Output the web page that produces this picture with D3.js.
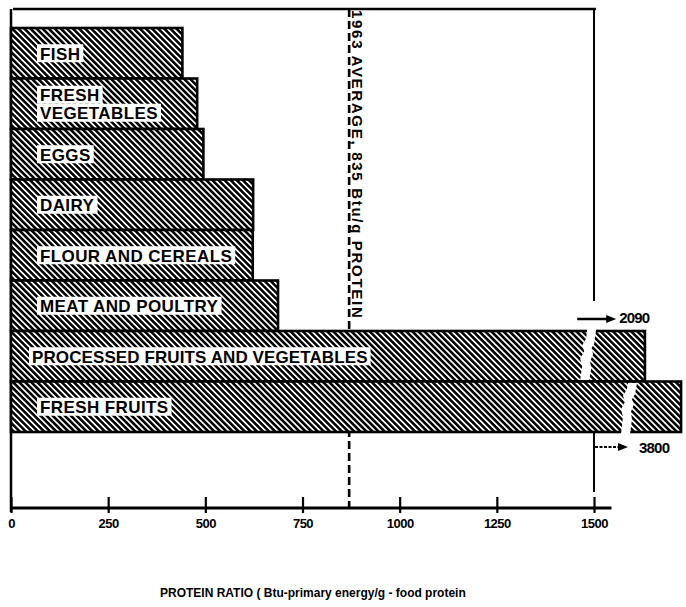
<!DOCTYPE html>
<html>
<head>
<meta charset="utf-8">
<script src="https://cdn.jsdelivr.net/npm/d3@7"></script>
<style>
  html, body { margin: 0; padding: 0; background: #fff; overflow: hidden; }
  svg { display: block; }
  text { font-family: "Liberation Sans", Arial, sans-serif; font-weight: bold; fill: #000; }
</style>
</head>
<body>
<svg id="chart" width="686" height="607"></svg>
<script>
// ---- data ----
const categories = ["FISH", "FRESH VEGETABLES", "EGGS", "DAIRY", "FLOUR AND CEREALS",
  "MEAT AND POULTRY", "PROCESSED FRUITS AND VEGETABLES", "FRESH FRUITS"];
const labelLines = [["FISH"], ["FRESH", "VEGETABLES"], ["EGGS"], ["DAIRY"], ["FLOUR AND CEREALS"],
  ["MEAT AND POULTRY"], ["PROCESSED FRUITS AND VEGETABLES"], ["FRESH FRUITS"]];
const values = [441, 479, 495, 623, 622, 687, 2090, 3800];
// broken bars: where the scale break is drawn and how far the truncated bar is drawn (data units)
const breakAt = [null, null, null, null, null, null, 1485, 1590];
const drawnTo = [null, null, null, null, null, null, 1631, 1724];
const tickValues = [0, 250, 500, 750, 1000, 1250, 1500];
const tickLabels = ["0", "250", "500", "750", "1000", "1250", "1500"];
const average = 870;
const averageLabel = "1963 AVERAGE, 835 Btu/g PROTEIN";
const xTitle = "PROTEIN RATIO ( Btu-primary energy/g - food protein";

// ---- layout ----
const svg = d3.select("#chart");
const frameTop = 9, plotTop = 28, plotBottom = 432, axisY = 508;
const x = d3.scaleLinear().domain([0, 1500]).range([11, 594]);
const y = d3.scaleBand().domain(categories).range([plotTop, plotBottom]).padding(0);

// hatch pattern
const defs = svg.append("defs");
const pat = defs.append("pattern").attr("id", "hatch")
  .attr("patternUnits", "userSpaceOnUse").attr("width", 4.3).attr("height", 10)
  .attr("patternTransform", "rotate(-45)");
pat.append("rect").attr("width", 4.3).attr("height", 10).attr("fill", "#fff");
pat.append("line").attr("x1", 1.3).attr("y1", 0).attr("x2", 1.3).attr("y2", 10)
  .attr("stroke", "#000").attr("stroke-width", 2.6);

// dashed average line (behind bars)
svg.append("line")
  .attr("x1", x(average)).attr("x2", x(average))
  .attr("y1", frameTop).attr("y2", axisY)
  .attr("stroke", "#000").attr("stroke-width", 2.6).attr("stroke-dasharray", "8,4");

// frame lines
svg.append("line").attr("x1", x(0) + 2).attr("x2", x(1500) + 2).attr("y1", frameTop).attr("y2", frameTop)
  .attr("stroke", "#000").attr("stroke-width", 2.5);
svg.append("line").attr("x1", x(0)).attr("x2", x(0)).attr("y1", frameTop).attr("y2", axisY + 4)
  .attr("stroke", "#000").attr("stroke-width", 2.5);
svg.append("line").attr("x1", x(1500)).attr("x2", x(1500)).attr("y1", frameTop).attr("y2", y(categories[6]) - 30)
  .attr("stroke", "#000").attr("stroke-width", 2);
svg.append("line").attr("x1", x(1500)).attr("x2", x(1500)).attr("y1", plotBottom).attr("y2", axisY - 16)
  .attr("stroke", "#000").attr("stroke-width", 2);

// bars
const data = categories.map((c, i) => ({ c, v: values[i], lines: labelLines[i], brk: breakAt[i], end: drawnTo[i] }));
const bars = svg.append("g");
data.forEach(d => {
  const y0 = y(d.c), h = y.bandwidth();
  const endVal = d.end != null ? d.end : d.v;
  bars.append("rect")
    .attr("x", x(0)).attr("y", y0)
    .attr("width", x(endVal) - x(0)).attr("height", h)
    .attr("fill", "url(#hatch)").attr("stroke", "#000").attr("stroke-width", 2.6);
});

// break gaps (jagged white)
data.forEach((d, i) => {
  if (d.brk == null) return;
  const y0 = y(d.c), h = y.bandwidth(), cx = x(d.brk);
  const first = i === 6;
  const top = first ? y0 - 2 : y0 + 1.5;
  const bot = first ? y0 + h - 1.5 : y0 + h + 2;
  const pts = [
    [cx - 1, top], [cx + 8, top],
    [cx + 6, y0 + h * 0.25], [cx + 3, y0 + h * 0.35], [cx + 5, y0 + h * 0.45],
    [cx + 2, y0 + h * 0.6], [cx + 3, y0 + h * 0.75], [cx + 1, bot],
    [cx - 8, bot], [cx - 6, y0 + h * 0.7], [cx - 8, y0 + h * 0.55],
    [cx - 4, y0 + h * 0.4], [cx - 6, y0 + h * 0.28], [cx - 2, y0 + h * 0.15]
  ];
  svg.append("polygon").attr("points", pts.map(p => p.join(",")).join(" "))
    .attr("fill", "#fff");
});

// bar labels with white knock-out
const labG = svg.append("g");
data.forEach((d, i) => {
  const y0 = y(d.c), h = y.bandwidth();
  const n = d.lines.length, lh = 18;
  d.lines.forEach((ln, k) => {
    const cy = y0 + h / 2 + (k - (n - 1) / 2) * lh;
    const t = labG.append("text")
      .attr("x", x(0) + (i === 6 ? 21 : 29)).attr("y", cy + 6.5)
      .style("font-size", "17px").style("letter-spacing", i === 6 ? "0.1px" : "0.4px")
      .text(ln);
    const bb = t.node().getBBox();
    labG.insert("rect", "text")
      .attr("x", bb.x - 3).attr("y", cy - 9)
      .attr("width", bb.width + 6).attr("height", 18)
      .attr("fill", "#fff");
  });
});

// average annotation (rotated)
svg.append("text")
  .attr("transform", `translate(${x(average) + 3},${frameTop + 1}) rotate(90)`)
  .style("font-size", "15px").style("letter-spacing", "1.7px")
  .text(averageLabel);

// overflow arrows
function arrow(x1, x2, yy, dashed) {
  svg.append("line").attr("x1", x1).attr("x2", x2 - 6).attr("y1", yy).attr("y2", yy)
    .attr("stroke", "#000").attr("stroke-width", dashed ? 1.8 : 2.5)
    .attr("stroke-dasharray", dashed ? "3,1.5" : null);
  svg.append("polygon")
    .attr("points", `${x2},${yy} ${x2 - 10},${yy - 4} ${x2 - 10},${yy + 4}`)
    .attr("fill", "#000");
}
const pIdx = 6, fIdx = 7;
arrow(x(breakAt[pIdx]) - 11, x(breakAt[pIdx]) + 28, y(categories[pIdx]) - 12, false);
svg.append("text").attr("x", x(breakAt[pIdx]) + 31).attr("y", y(categories[pIdx]) - 8)
  .style("font-size", "15px").style("letter-spacing", "-0.8px").text(values[pIdx]);
arrow(x(1500) + 1, x(1500) + 34, plotBottom + 15, true);
svg.append("text").attr("x", x(1500) + 45).attr("y", plotBottom + 21)
  .style("font-size", "15px").style("letter-spacing", "-0.8px").text(values[fIdx]);

// x axis
const axis = d3.axisBottom(x).tickValues(tickValues)
  .tickFormat((d, i) => tickLabels[i]).tickSize(0).tickPadding(11);
const ax = svg.append("g").attr("transform", `translate(0,${axisY})`).call(axis);
ax.select(".domain").remove();
ax.selectAll(".tick text")
  .style("font-family", "'Liberation Sans', Arial, sans-serif")
  .style("font-weight", "bold").style("font-size", "13px").style("letter-spacing", "-0.5px");
ax.selectAll(".tick").append("line")
  .attr("x1", 0).attr("x2", 0).attr("y1", -11).attr("y2", 5)
  .attr("stroke", "#000").attr("stroke-width", 2.2);
ax.append("line").attr("x1", x(0)).attr("x2", x(1545)).attr("y1", 0).attr("y2", 0)
  .attr("stroke", "#000").attr("stroke-width", 3);

// axis title
svg.append("text").attr("x", 160).attr("y", 597)
  .style("font-size", "12px").text(xTitle);
</script>
</body>
</html>
